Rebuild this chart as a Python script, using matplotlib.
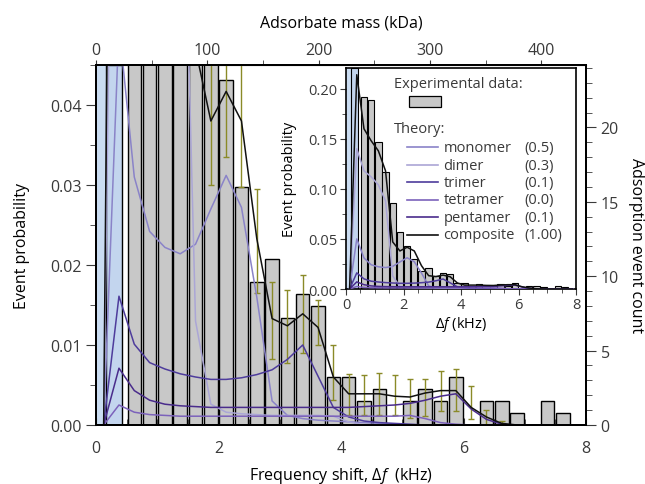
import matplotlib
matplotlib.use("Agg")
import matplotlib.pyplot as plt
from matplotlib.ticker import MultipleLocator, FormatStrFormatter
from matplotlib.patches import Rectangle

plt.rcParams['font.family'] = ['Open Sans', 'DejaVu Sans']
plt.rcParams['mathtext.fontset'] = 'custom'
plt.rcParams['mathtext.it'] = 'Open Sans:italic'
plt.rcParams['mathtext.rm'] = 'Open Sans'
TXT = '#3a3a3a'
plt.rcParams['text.color'] = TXT
plt.rcParams['xtick.color'] = TXT
plt.rcParams['ytick.color'] = TXT

# experimental histogram (bin centres in kHz, event probability)
bin_centres = [0.625, 0.875, 1.125, 1.375, 1.625, 1.875, 2.125, 2.375, 2.625, 2.875,
               3.125, 3.375, 3.625, 3.875, 4.125, 4.375, 4.625, 4.875, 5.125, 5.375,
               5.625, 5.875, 6.125, 6.375, 6.625, 6.875, 7.125, 7.375, 7.625, 7.875]
probability = [0.192, 0.189, 0.147, 0.117, 0.086, 0.057, 0.0431, 0.0298, 0.0179, 0.0208,
               0.0134, 0.0164, 0.0149, 0.0060, 0.0060, 0.0030, 0.0045, 0.0, 0.0030, 0.0045,
               0.0030, 0.0060, 0.0, 0.0030, 0.0030, 0.0015, 0.0, 0.0030, 0.0015, 0.0]

# error bars of the composite model
err_x = [1.875, 2.125, 2.375, 2.625, 2.875, 3.125, 3.375, 3.625, 3.875, 4.125,
         4.375, 4.625, 4.875, 5.125, 5.375, 5.625, 5.875, 6.125, 6.375, 6.625]
err_lo = [0.0300, 0.0335, 0.0297, 0.0165, 0.0083, 0.0078, 0.0090, 0.0100, 0.0031, 0.0012,
          0.0013, 0.0013, 0.0013, 0.0009, 0.0011, 0.0017, 0.0017, 0.0007, 0.0, 0.0]
err_hi = [0.0460, 0.0500, 0.0463, 0.0295, 0.0179, 0.0169, 0.0188, 0.0156, 0.0100, 0.0064,
          0.0062, 0.0065, 0.0062, 0.0057, 0.0057, 0.0067, 0.0070, 0.0049, 0.0019, 0.0005]

# theory curves
theory_x = [0.125, 0.375, 0.625, 0.875, 1.125, 1.375, 1.625, 1.875, 2.125, 2.375,
            2.625, 2.875, 3.125, 3.375, 3.625, 3.875, 4.125, 4.375, 4.625, 4.875,
            5.125, 5.375, 5.625, 5.875, 6.125, 6.375, 6.625, 6.875, 7.125, 7.375,
            7.625, 7.875]
monomer = [0, 0.050, 0.031, 0.0242, 0.0222, 0.0214, 0.0226, 0.0270, 0.0312, 0.0272,
           0.0160, 0.0030, 0.0012, 0.0008, 0.0006, 0.0005, 0.0004, 0.0003, 0.0002, 0.0001,
           0, 0, 0, 0, 0, 0, 0, 0, 0, 0, 0, 0]
dimer = [0, 0.140, 0.118, 0.112, 0.104, 0.088, 0.013, 0.0026, 0.0016, 0.0014,
         0.0013, 0.0012, 0.0012, 0.0012, 0.0012, 0.0011, 0.0004, 0, 0, 0,
         0, 0, 0, 0, 0, 0, 0, 0, 0, 0, 0, 0]
trimer = [0, 0.0161, 0.0101, 0.0078, 0.0070, 0.0064, 0.0060, 0.0057, 0.0057, 0.0059,
          0.0063, 0.0069, 0.0082, 0.0100, 0.0061, 0.0022, 0.0010, 0.0005, 0.0003, 0.0002,
          0.0001, 0, 0, 0, 0, 0, 0, 0, 0, 0, 0, 0]
tetramer = [0, 0.0025, 0.0016, 0.0013, 0.0012, 0.0011, 0.0011, 0.0011, 0.0011, 0.0011,
            0.0011, 0.0011, 0.0011, 0.0011, 0.0011, 0.0011, 0.0011, 0.0011, 0.0011, 0.0011,
            0.0012, 0.0008, 0.0003, 0.0001, 0, 0, 0, 0, 0, 0, 0, 0]
pentamer = [0, 0.0071, 0.0043, 0.0031, 0.0026, 0.0024, 0.0023, 0.0022, 0.0022, 0.0022,
            0.0022, 0.0022, 0.0022, 0.0022, 0.0022, 0.0022, 0.0022, 0.0023, 0.0024, 0.0025,
            0.0027, 0.0031, 0.0036, 0.0039, 0.0020, 0.0007, 0.0001, 0, 0, 0, 0, 0]
composite = [0, 0.214, 0.160, 0.148, 0.138, 0.118, 0.047, 0.038, 0.0417, 0.038,
             0.0233, 0.0133, 0.0124, 0.0139, 0.0122, 0.0060, 0.0039, 0.0039, 0.0039, 0.0036,
             0.0035, 0.0040, 0.0043, 0.0043, 0.0022, 0.0010, 0.0002, 0, 0, 0, 0, 0]

curve_names = ['monomer', 'dimer', 'trimer', 'tetramer', 'pentamer', 'composite']
curve_weights = ['(0.5)', '(0.3)', '(0.1)', '(0.0)', '(0.1)', '(1.00)']
curve_data = [monomer, dimer, trimer, tetramer, pentamer, composite]
curve_colors = ['#8a83c8', '#aba6d6', '#4e3c9c', '#7c62bb', '#4a2c8c', '#111111']

mass_ticks = [0, 100, 200, 300, 400]
excluded_lo, excluded_bar, excluded_hi = 0.0, 0.16, 0.42
kda_per_khz = 55.0

BAR = '#c8c8c8'
BLUE = '#cadcf1'
OLIVE = '#8a8a28'


def draw_data(a, lw_bar=1.0, with_err=True):
    a.axvspan(excluded_lo, excluded_hi, color=BLUE, lw=0, zorder=1)
    a.axvspan(excluded_bar, excluded_hi, facecolor='#c3d5ee', edgecolor='k', lw=lw_bar, zorder=1)
    a.bar(bin_centres, probability, width=0.22, color=BAR, edgecolor='k', lw=lw_bar, zorder=2)
    if with_err:
        mid = [(l + h) / 2 for l, h in zip(err_lo, err_hi)]
        a.errorbar(err_x, mid, yerr=[[m - l for m, l in zip(mid, err_lo)],
                                     [h - m for h, m in zip(err_hi, mid)]],
                   fmt='none', ecolor=OLIVE, elinewidth=1, capsize=2.5, zorder=3)
    for vals, c in zip(curve_data, curve_colors):
        a.plot(theory_x, vals, color=c, lw=1.1, zorder=4)


fig = plt.figure(figsize=(6.45, 4.85), dpi=100)
ax = fig.add_axes([96 / 645, 59 / 485, 490 / 645, 360 / 485])
draw_data(ax)
ax.set_xlim(0, 8)
ax.set_ylim(0, 0.045)
ax.xaxis.set_major_locator(MultipleLocator(2))
ax.xaxis.set_minor_locator(MultipleLocator(0.5))
ax.yaxis.set_major_locator(MultipleLocator(0.01))
ax.yaxis.set_minor_locator(MultipleLocator(0.005))
ax.yaxis.set_major_formatter(FormatStrFormatter('%.2f'))
ax.tick_params(axis='x', which='both', direction='in', top=False, labelsize=11.5, pad=11)
ax.tick_params(axis='x', which='major', length=5)
ax.tick_params(axis='x', which='minor', length=4)
ax.tick_params(axis='y', which='major', direction='out', length=7, labelsize=11.5)
ax.tick_params(axis='y', which='minor', direction='out', length=4)
ax.set_xlabel('Frequency shift, $\\Delta f$  (kHz)', fontsize=11.5, labelpad=6)
ax.set_ylabel('Event probability', fontsize=11.5, labelpad=14)
for s in ax.spines.values():
    s.set_linewidth(1.4)

top = ax.secondary_xaxis('top', functions=(lambda f: f * kda_per_khz, lambda m: m / kda_per_khz))
top.set_xticks(mass_ticks)
top.xaxis.set_minor_locator(MultipleLocator(50))
top.tick_params(which='both', direction='out', length=3.6, labelsize=11.5, pad=1.5)
top.set_xlabel('Adsorbate mass (kDa)', fontsize=11.5, labelpad=11)

ax2 = ax.twinx()
ax2.set_ylim(0, 24.2)
ax2.yaxis.set_major_locator(MultipleLocator(5))
ax2.yaxis.set_minor_locator(MultipleLocator(1))
ax2.tick_params(which='major', direction='out', length=7, labelsize=11.5)
ax2.tick_params(which='minor', direction='out', length=4)
ax2.set_ylabel('Adsorption event count', fontsize=11.5, rotation=270, labelpad=18)
for s in ax2.spines.values():
    s.set_linewidth(1.4)

# inset with full probability range
axin = fig.add_axes([346 / 645, 195 / 485, 230 / 645, 221 / 485])
axin.set_zorder(10)
draw_data(axin, lw_bar=0.8, with_err=False)
axin.set_xlim(0, 8)
axin.set_ylim(0, 0.2207)
axin.xaxis.set_major_locator(MultipleLocator(2))
axin.xaxis.set_minor_locator(MultipleLocator(0.5))
axin.yaxis.set_major_locator(MultipleLocator(0.05))
axin.yaxis.set_minor_locator(MultipleLocator(0.025))
axin.yaxis.set_major_formatter(FormatStrFormatter('%.2f'))
axin.tick_params(which='major', direction='out', length=4, labelsize=10.5, pad=2)
axin.tick_params(which='minor', direction='out', length=3)
axin.set_xlabel('$\\Delta f$ (kHz)', fontsize=10.5, labelpad=1)
axin.set_ylabel('Event probability', fontsize=10.5, labelpad=8)
for s in axin.spines.values():
    s.set_linewidth(1.2)

# hand-made legend inside the inset
axin.text(0.209, 0.928, 'Experimental data:', transform=axin.transAxes, fontsize=10.5, va='center')
axin.add_patch(Rectangle((0.275, 0.823), 0.137, 0.052, transform=axin.transAxes,
                         facecolor=BAR, edgecolor='k', lw=0.9, zorder=6))
axin.text(0.209, 0.727, 'Theory:', transform=axin.transAxes, fontsize=10.5, va='center')
row_y = [0.641, 0.561, 0.483, 0.404, 0.324, 0.246]
for name, w, c, y in zip(curve_names, curve_weights, curve_colors, row_y):
    axin.plot([0.264, 0.401], [y, y], color=c, lw=1.2, transform=axin.transAxes, zorder=6)
    axin.text(0.423, y, name, transform=axin.transAxes, fontsize=10.5, va='center')
    axin.text(0.775, y, w, transform=axin.transAxes, fontsize=10.5, va='center')

fig.savefig('out.png', dpi=100)
